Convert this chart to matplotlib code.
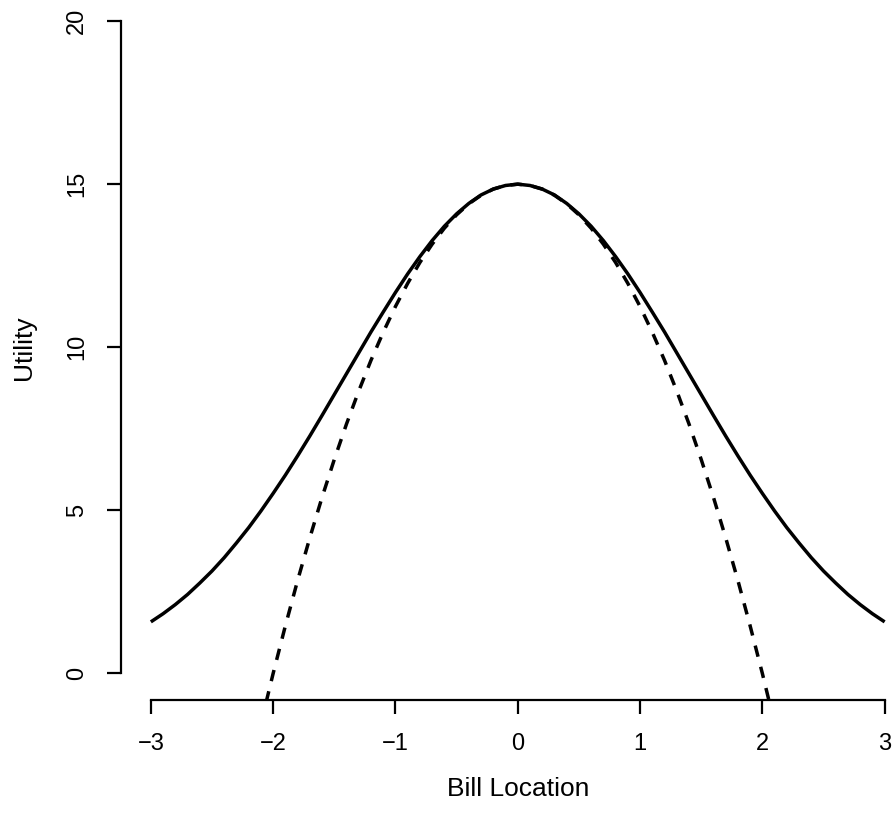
import numpy as np
import matplotlib.pyplot as plt

plt.rcParams['font.family'] = ['Liberation Sans', 'DejaVu Sans']

# utility curves sampled at x = 0, 0.1, ..., (symmetric about 0)
x_half = [0.0, 0.1, 0.2, 0.3, 0.4, 0.5, 0.6, 0.7, 0.8, 0.9, 1.0,
          1.1, 1.2, 1.3, 1.4, 1.5, 1.6, 1.7, 1.8, 1.9, 2.0,
          2.1, 2.2, 2.3, 2.4, 2.5, 2.6, 2.7, 2.8, 2.9, 3.0]
gauss_half = [15.00, 14.96, 14.85, 14.67, 14.41, 14.09, 13.71, 13.27, 12.78, 12.25, 11.68,
              11.08, 10.47, 9.83, 9.19, 8.55, 7.91, 7.28, 6.67, 6.08, 5.52,
              4.98, 4.47, 4.00, 3.55, 3.14, 2.77, 2.42, 2.11, 1.83, 1.58]
quad_half = [15.00, 14.96, 14.85, 14.66, 14.40, 14.06, 13.65, 13.16, 12.60, 11.96, 11.25,
             10.46, 9.60, 8.66, 7.65, 6.56, 5.40, 4.16, 2.85, 1.46, 0.00,
             -1.54]

x_ticks = [-3, -2, -1, 0, 1, 2, 3]
y_ticks = [0, 5, 10, 15, 20]


def mirror(xs, ys):
    xs = np.asarray(xs)
    ys = np.asarray(ys)
    return (np.concatenate([-xs[:0:-1], xs]),
            np.concatenate([ys[:0:-1], ys]))


xg, yg = mirror(x_half, gauss_half)
xq, yq = mirror(x_half[:len(quad_half)], quad_half)

fig = plt.figure(figsize=(8.95, 8.13), dpi=100)
ax = fig.add_axes([121.5 / 895, (813 - 699.5) / 813,
                   (914 - 121.5) / 895, (699.5 + 5) / 813])

ax.plot(xg, yg, color='black', lw=2.5, solid_capstyle='butt')
ax.plot(xq, yq, color='black', lw=2.5, dashes=(3.3, 3.0))

ax.set_xlim(-3.24, 3.24)
ax.set_ylim(-0.8, 20.8)

for side in ['top', 'right']:
    ax.spines[side].set_visible(False)
ax.spines['left'].set_bounds(0, 20)
ax.spines['bottom'].set_bounds(-3, 3)
for side in ['left', 'bottom']:
    ax.spines[side].set_linewidth(1.6)

ax.set_xticks(x_ticks)
ax.set_xticklabels(['\u22123', '\u22122', '\u22121', '0', '1', '2', '3'])
ax.set_yticks(y_ticks)
ax.set_yticklabels([str(v) for v in y_ticks], rotation=90, va='center')
ax.tick_params(axis='both', length=10, width=1.6, labelsize=17, pad=14)

ax.set_xlabel('Bill Location', fontsize=19, labelpad=16)
ax.set_ylabel('Utility', fontsize=19, labelpad=22)

fig.savefig('out.png', dpi=100)
